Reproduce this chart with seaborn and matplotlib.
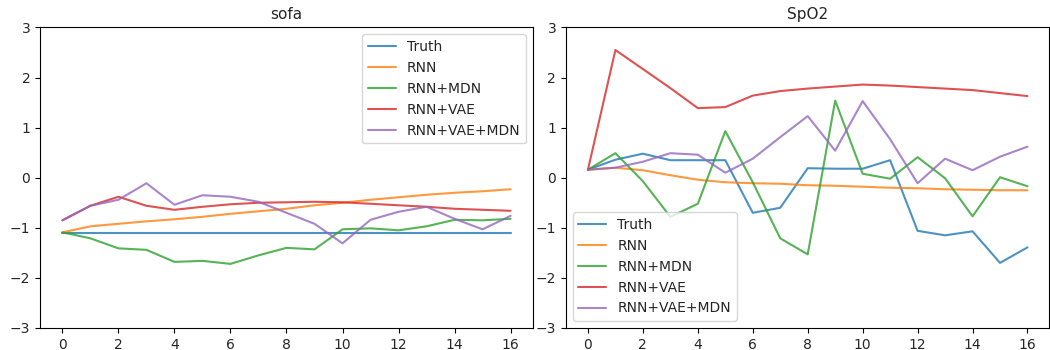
import numpy as np
import pandas as pd
import matplotlib
matplotlib.use("Agg")
import matplotlib.pyplot as plt
import seaborn as sns

steps = list(range(17))
models = ["Truth", "RNN", "RNN+MDN", "RNN+VAE", "RNN+VAE+MDN"]
colors = ["#1f77b4", "#ff7f0e", "#2ca02c", "#d62728", "#9467bd"]

sofa_truth = [-1.1] * 17
sofa_rnn = [-1.09, -0.97, -0.92, -0.87, -0.83, -0.78, -0.72, -0.67, -0.62, -0.55,
            -0.50, -0.44, -0.39, -0.34, -0.30, -0.27, -0.23]
sofa_rnn_mdn = [-1.09, -1.21, -1.41, -1.44, -1.68, -1.66, -1.72, -1.55, -1.40, -1.43,
                -1.03, -1.01, -1.05, -0.97, -0.84, -0.85, -0.82]
sofa_rnn_vae = [-0.85, -0.56, -0.38, -0.56, -0.64, -0.58, -0.53, -0.50, -0.49, -0.48,
                -0.49, -0.52, -0.55, -0.58, -0.62, -0.64, -0.66]
sofa_rnn_vae_mdn = [-0.85, -0.56, -0.44, -0.11, -0.54, -0.35, -0.38, -0.48, -0.70, -0.92,
                    -1.31, -0.84, -0.68, -0.58, -0.82, -1.03, -0.76]

spo2_truth = [0.16, 0.36, 0.48, 0.35, 0.35, 0.35, -0.70, -0.60, 0.19, 0.18,
              0.18, 0.35, -1.06, -1.15, -1.07, -1.70, -1.39]
spo2_rnn = [0.16, 0.20, 0.15, 0.05, -0.04, -0.09, -0.11, -0.12, -0.15, -0.16,
            -0.18, -0.20, -0.21, -0.23, -0.24, -0.25, -0.25]
spo2_rnn_mdn = [0.16, 0.49, -0.07, -0.78, -0.52, 0.93, -0.09, -1.21, -1.53, 1.54,
                0.08, -0.02, 0.41, -0.01, -0.77, 0.01, -0.17]
spo2_rnn_vae = [0.16, 2.55, 2.17, 1.79, 1.39, 1.41, 1.64, 1.73, 1.78, 1.82,
                1.86, 1.84, 1.81, 1.78, 1.75, 1.69, 1.63]
spo2_rnn_vae_mdn = [0.16, 0.20, 0.32, 0.49, 0.46, 0.10, 0.38, 0.81, 1.23, 0.54,
                    1.53, 0.77, -0.11, 0.38, 0.15, 0.42, 0.62]

panels = [
    ("sofa", [sofa_truth, sofa_rnn, sofa_rnn_mdn, sofa_rnn_vae, sofa_rnn_vae_mdn], "upper right"),
    ("SpO2", [spo2_truth, spo2_rnn, spo2_rnn_mdn, spo2_rnn_vae, spo2_rnn_vae_mdn], "lower left"),
]

sns.set_style("ticks")
plt.rcParams["font.family"] = ["DejaVu Sans"]

fig = plt.figure(figsize=(10.5, 3.5), dpi=100)
axes = [fig.add_axes([0.0381, 0.0629, 0.4695, 0.8586]),
        fig.add_axes([0.539, 0.0629, 0.4605, 0.8586])]

for ax, (title, series, loc) in zip(axes, panels):
    for name, vals, c in zip(models, series, colors):
        sns.lineplot(x=steps, y=vals, ax=ax, color=c, alpha=0.8, label=name, linewidth=1.5)
    ax.set_ylim(-3, 3)
    ax.set_yticks([-3, -2, -1, 0, 1, 2, 3])
    ax.set_xticks([0, 2, 4, 6, 8, 10, 12, 14, 16])
    ax.set_title(title, fontsize=11)
    ax.legend(loc=loc, fontsize=10)
    for s in ax.spines.values():
        s.set_visible(True)
        s.set_color("black")
        s.set_linewidth(0.8)
    ax.tick_params(labelsize=10, length=3.5, width=0.8, color="black")

fig.savefig("out.png", dpi=100)
